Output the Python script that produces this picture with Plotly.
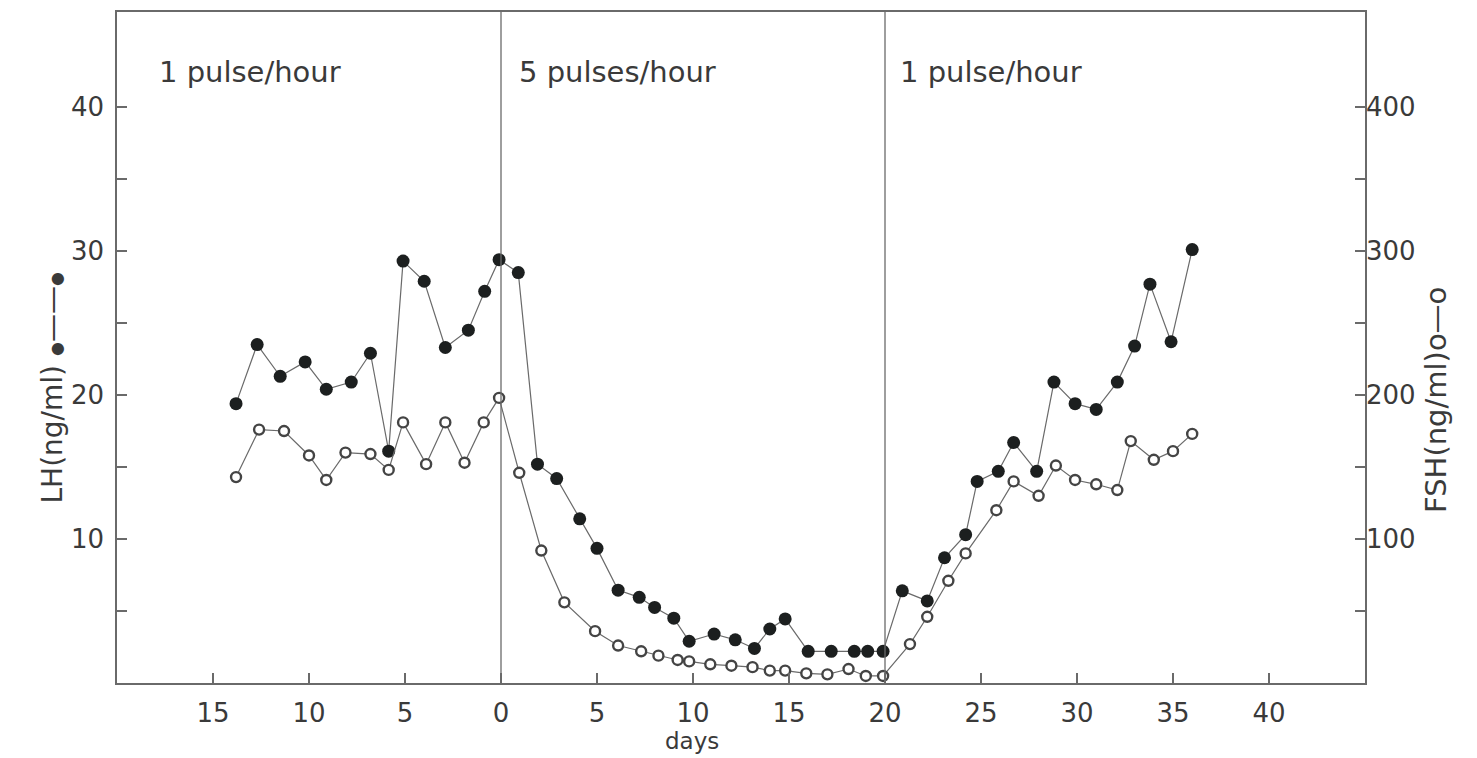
import plotly.graph_objects as go

# LH (ng/ml), filled circles
lh_days = [-13.8, -12.7, -11.5, -10.2, -9.1, -7.8, -6.8, -5.85, -5.1, -4.0,
           -2.9, -1.7, -0.85, -0.1, 0.9, 1.9, 2.9, 4.1, 5.0, 6.1,
           7.2, 8.0, 9.0, 9.8, 11.1, 12.2, 13.2, 14.0, 14.8, 16.0,
           17.2, 18.4, 19.1, 19.9, 20.9, 22.2, 23.1, 24.2, 24.8, 25.9,
           26.7, 27.9, 28.8, 29.9, 31.0, 32.1, 33.0, 33.8, 34.9, 36.0]
lh_values = [19.4, 23.5, 21.3, 22.3, 20.4, 20.9, 22.9, 16.1, 29.3, 27.9,
             23.3, 24.5, 27.2, 29.4, 28.5, 15.2, 14.2, 11.4, 9.35, 6.45,
             5.95, 5.25, 4.5, 2.9, 3.4, 3.0, 2.4, 3.75, 4.45, 2.2,
             2.2, 2.2, 2.2, 2.2, 6.4, 5.7, 8.7, 10.3, 14.0, 14.7,
             16.7, 14.7, 20.9, 19.4, 19.0, 20.9, 23.4, 27.7, 23.7, 30.1]

# FSH (ng/ml), open circles
fsh_days = [-13.8, -12.6, -11.3, -10.0, -9.1, -8.1, -6.8, -5.85, -5.1, -3.9,
            -2.9, -1.9, -0.9, -0.1, 0.95, 2.1, 3.3, 4.9, 6.1, 7.3,
            8.2, 9.2, 9.8, 10.9, 12.0, 13.1, 14.0, 14.8, 15.9, 17.0,
            18.1, 19.0, 19.9, 21.3, 22.2, 23.3, 24.2, 25.8, 26.7, 28.0,
            28.9, 29.9, 31.0, 32.1, 32.8, 34.0, 35.0, 36.0]
fsh_values = [143, 176, 175, 158, 141, 160, 159, 148, 181, 152,
              181, 153, 181, 198, 146, 92, 56, 36, 26, 22,
              19, 16, 15, 13, 12, 11, 8.6, 8.6, 6.7, 6.0,
              9.7, 4.9, 4.9, 27, 46, 71, 90, 120, 140, 130,
              151, 141, 138, 134, 168, 155, 161, 173]

# x ticks: days before the switch are counted backwards
x_tickvals = [-15, -10, -5, 0, 5, 10, 15, 20, 25, 30, 35, 40]
x_ticktext = ["15", "10", "5", "0", "5", "10", "15", "20", "25", "30", "35", "40"]
lh_tickvals = [5, 10, 15, 20, 25, 30, 35, 40]
lh_ticktext = ["", "10", "", "20", "", "30", "", "40"]
fsh_tickvals = [50, 100, 150, 200, 250, 300, 350, 400]
fsh_ticktext = ["", "100", "", "200", "", "300", "", "400"]

phase_starts = [-17.9, 0.85, 20.7]
phase_labels = ["1 pulse/hour", "5 pulses/hour", "1 pulse/hour"]
phase_bounds = [0, 20]

INK = "#3a3a3a"
LINE = "#6a6a6a"
FONT = "DejaVu Sans"

fig = go.Figure()

fig.add_trace(go.Scatter(
    x=fsh_days, y=fsh_values, yaxis="y2", mode="lines+markers",
    line=dict(color=LINE, width=1.2),
    marker=dict(symbol="circle", size=10, color="white",
                line=dict(color="#444444", width=2.4)),
    showlegend=False, name="FSH",
))
fig.add_trace(go.Scatter(
    x=lh_days, y=lh_values, mode="lines+markers",
    line=dict(color=LINE, width=1.2),
    marker=dict(symbol="circle", size=13, color="#1c1f1f",
                line=dict(color="#1c1f1f", width=0)),
    showlegend=False, name="LH",
))

for xb in phase_bounds:
    fig.add_shape(type="line", xref="x", yref="paper", x0=xb, x1=xb, y0=0, y1=1,
                  line=dict(color=LINE, width=1.3))

for xs, txt in zip(phase_starts, phase_labels):
    fig.add_annotation(x=xs, y=42.4, xref="x", yref="y", text=txt,
                       showarrow=False, xanchor="left", yanchor="middle",
                       font=dict(family=FONT, size=29, color=INK))

dot = "<span style='font-size:16px'>●</span>"
fig.add_annotation(x=33, y=388, xref="paper", yref="paper",
                   text="LH(ng/ml) " + dot + "——" + dot,
                   showarrow=False, textangle=-90,
                   font=dict(family=FONT, size=28, color=INK))
fig.add_annotation(x=1455, y=400, xref="paper", yref="paper", text="FSH(ng/ml)o—o",
                   showarrow=False, textangle=-90,
                   font=dict(family=FONT, size=29, color=INK))
fig.add_annotation(x=692, y=727, xref="paper", yref="paper", text="days",
                   showarrow=False, yanchor="top", borderpad=0,
                   font=dict(family=FONT, size=23, color=INK))

axis_common = dict(showline=True, linecolor=LINE, linewidth=1.5, ticks="inside",
                   ticklen=10, tickwidth=1.5, tickcolor=LINE, showgrid=False,
                   zeroline=False, automargin=False,
                   tickfont=dict(family=FONT, size=26, color=INK))

W, H = 1477, 758
L, R, T, B = 117, 112, 12, 75

fig.update_layout(
    width=W, height=H,
    margin=dict(l=L, r=R, t=T, b=B),
    paper_bgcolor="white", plot_bgcolor="white",
    xaxis=dict(range=[-20, 45], tickvals=x_tickvals, ticktext=x_ticktext,
               mirror=True, ticklabelstandoff=6, **axis_common),
    yaxis=dict(range=[0, 46.6], tickvals=lh_tickvals, ticktext=lh_ticktext,
               ticklabelstandoff=6, **axis_common),
    yaxis2=dict(range=[0, 466], tickvals=fsh_tickvals, ticktext=fsh_ticktext,
                overlaying="y", side="right", ticklabelstandoff=-6, **axis_common),
)

# annotation positions above were given in pixels; convert to paper fractions
for ann in fig.layout.annotations:
    if ann.xref == "paper":
        px, py = ann.x, ann.y
        ann.x = (px - L) / (W - L - R)
        ann.y = 1 - (py - T) / (H - T - B)

fig.write_html("out.html")
